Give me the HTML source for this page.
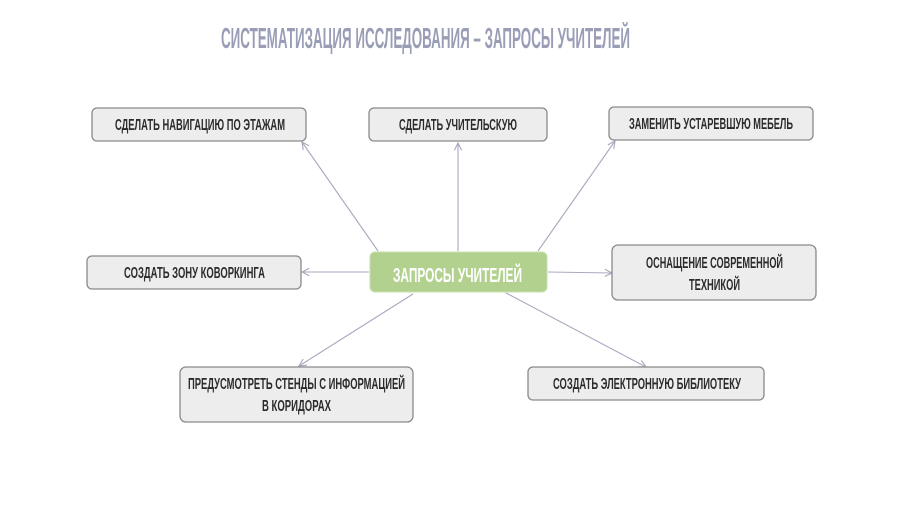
<!DOCTYPE html>
<html><head><meta charset="utf-8"><style>
html,body{margin:0;padding:0;background:#fff}
svg{display:block}
text{font-family:"Liberation Sans",sans-serif;font-weight:bold}
</style></head><body>
<svg width="900" height="506" viewBox="0 0 900 506" xmlns="http://www.w3.org/2000/svg">
<defs>
<marker id="a" viewBox="0 0 10 10" refX="9" refY="5" markerWidth="9" markerHeight="9" orient="auto" markerUnits="userSpaceOnUse">
<path d="M1,1 L9,5 L1,9" fill="none" stroke="#a8aabf" stroke-width="1.3"/>
</marker>
</defs>
<text x="221" y="48" font-size="29" fill="#9a9db6" textLength="409" lengthAdjust="spacingAndGlyphs">СИСТЕМАТИЗАЦИЯ ИССЛЕДОВАНИЯ – ЗАПРОСЫ УЧИТЕЛЕЙ</text>
<g stroke="#a8aabf" stroke-width="1.1" fill="none" marker-end="url(#a)">
<line x1="378" y1="251" x2="302" y2="142"/>
<line x1="458" y1="251" x2="458" y2="143"/>
<line x1="538" y1="251" x2="615" y2="141"/>
<line x1="369" y1="272" x2="302" y2="272"/>
<line x1="548" y1="272" x2="612" y2="273"/>
<line x1="413" y1="294" x2="299" y2="366"/>
<line x1="506" y1="293" x2="646" y2="367"/>
</g>
<g fill="#ededed" stroke="#8a8a8a" stroke-width="1.3">
<rect x="92" y="108" width="214" height="33" rx="5"/>
<rect x="369" y="108" width="178" height="33" rx="5"/>
<rect x="609" y="107" width="204" height="33" rx="5"/>
<rect x="87" y="256" width="214" height="33" rx="5"/>
<rect x="612" y="245" width="204" height="55" rx="6"/>
<rect x="180" y="367" width="233" height="55" rx="6"/>
<rect x="528" y="367" width="236" height="33" rx="5"/>
</g>
<rect x="370" y="252" width="177" height="40" rx="5" fill="#b2d18e" stroke="#c7dfad" stroke-width="1"/>
<g font-size="15.5" fill="#2b2b2b">
<text x="115" y="130" textLength="170" lengthAdjust="spacingAndGlyphs">СДЕЛАТЬ НАВИГАЦИЮ ПО ЭТАЖАМ</text>
<text x="399" y="130" textLength="118" lengthAdjust="spacingAndGlyphs">СДЕЛАТЬ УЧИТЕЛЬСКУЮ</text>
<text x="629" y="129" textLength="164" lengthAdjust="spacingAndGlyphs">ЗАМЕНИТЬ УСТАРЕВШУЮ МЕБЕЛЬ</text>
<text x="124" y="278" textLength="141" lengthAdjust="spacingAndGlyphs">СОЗДАТЬ ЗОНУ КОВОРКИНГА</text>
<text x="646" y="268" textLength="137" lengthAdjust="spacingAndGlyphs">ОСНАЩЕНИЕ СОВРЕМЕННОЙ</text>
<text x="689" y="290" textLength="51" lengthAdjust="spacingAndGlyphs">ТЕХНИКОЙ</text>
<text x="188" y="389" textLength="217" lengthAdjust="spacingAndGlyphs">ПРЕДУСМОТРЕТЬ СТЕНДЫ С ИНФОРМАЦИЕЙ</text>
<text x="262" y="411" textLength="69" lengthAdjust="spacingAndGlyphs">В КОРИДОРАХ</text>
<text x="553" y="389" textLength="188" lengthAdjust="spacingAndGlyphs">СОЗДАТЬ ЭЛЕКТРОННУЮ БИБЛИОТЕКУ</text>
</g>
<text x="393" y="282" font-size="20" fill="#ffffff" textLength="129" lengthAdjust="spacingAndGlyphs">ЗАПРОСЫ УЧИТЕЛЕЙ</text>
</svg>
</body></html>
